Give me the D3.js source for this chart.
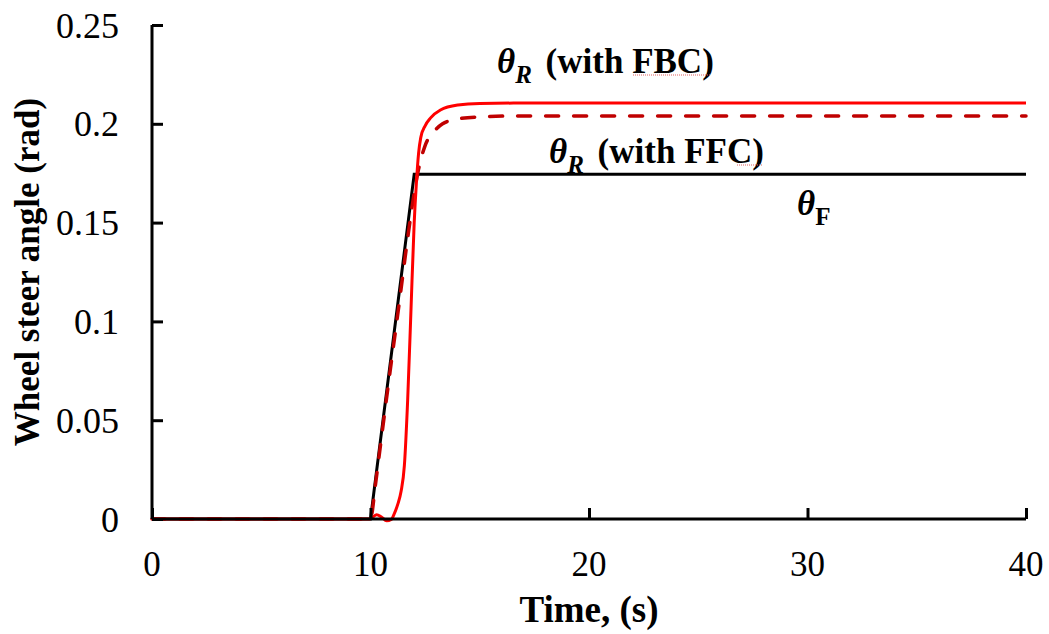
<!DOCTYPE html>
<html>
<head>
<meta charset="utf-8">
<script src="https://cdn.jsdelivr.net/npm/d3@7"></script>
<style>
  html, body { margin: 0; padding: 0; background: #fff; }
  svg { display: block; }
  text { font-family: "Liberation Serif", "Times New Roman", serif; fill: #000; }
</style>
</head>
<body>
<svg id="chart" width="1049" height="634"></svg>
<script>
// ---- data ----
const xTicks = [0, 10, 20, 30, 40];
const yTicks = [0, 0.05, 0.1, 0.15, 0.2, 0.25];
const yTickLabels = ["0", "0.05", "0.1", "0.15", "0.2", "0.25"];

// theta_F (front wheel steer input)
const thetaF_t = [0, 10, 12, 40];
const thetaF_v = [0, 0, 0.1745, 0.1745];

// theta_R with FFC (dashed dark red)
const ffc_t = [0, 9.95, 10.05, 10.2, 10.5, 10.9, 11.3, 11.7, 12.0, 12.2, 12.5, 12.9, 13.3, 14, 15, 17, 40];
const ffc_v = [0, 0, 0.002, 0.015, 0.041, 0.075, 0.108, 0.142, 0.165, 0.177, 0.189, 0.196, 0.2, 0.2025, 0.2035, 0.204, 0.204];

// theta_R with FBC (solid red)
const fbc_t = [0, 9.95, 10.1, 10.28, 10.5, 10.74, 10.95, 11.1, 11.25, 11.4, 11.55, 11.7, 11.85, 12.0, 12.1, 12.2, 12.3, 12.5, 12.75, 13.2, 14, 15, 17, 40];
const fbc_v = [0, 0, 0.001, 0.0022, 0.001, -0.0009, -0.0002, 0.003, 0.0075, 0.014, 0.027, 0.06, 0.105, 0.15, 0.17, 0.185, 0.193, 0.199, 0.203, 0.207, 0.2095, 0.2103, 0.2105, 0.2105];

// ---- layout ----
const svg = d3.select("#chart");
const x = d3.scaleLinear().domain([0, 40]).range([152, 1026]);
const y = d3.scaleLinear().domain([0, 0.25]).range([519, 25]);

const zip = (a, b) => a.map((d, i) => [d, b[i]]);
const line = d3.line().x(d => x(d[0])).y(d => y(d[1]));
const smooth = d3.line().x(d => x(d[0])).y(d => y(d[1])).curve(d3.curveMonotoneX);

// series
svg.append("path").attr("d", line(zip(thetaF_t, thetaF_v)))
  .attr("fill", "none").attr("stroke", "#000").attr("stroke-width", 3);
svg.append("path").attr("d", smooth(zip(ffc_t, ffc_v)))
  .attr("fill", "none").attr("stroke", "#C00000").attr("stroke-width", 3.5)
  .attr("stroke-dasharray", "13,15").attr("stroke-linecap", "round");
svg.append("path").attr("d", smooth(zip(fbc_t, fbc_v)))
  .attr("fill", "none").attr("stroke", "#FF0000").attr("stroke-width", 3);

// axes (ticks inside)
const gx = svg.append("g").attr("transform", `translate(0,${y(0)})`)
  .call(d3.axisTop(x).tickValues(xTicks).tickSize(11).tickFormat(""));
const gy = svg.append("g").attr("transform", `translate(${x(0)},0)`)
  .call(d3.axisRight(y).tickValues(yTicks).tickSize(11).tickFormat(""));
[gx, gy].forEach(g => {
  g.select(".domain").attr("stroke", "#000").attr("stroke-width", 3);
  g.selectAll(".tick line").attr("stroke", "#000").attr("stroke-width", 3);
});
gx.select(".domain").attr("d", `M${x(0)},0H${x(40)}`);
gy.select(".domain").attr("d", `M0,${y(0)}V${y(0.25)}`);

// tick labels
svg.append("g").selectAll("text").data(xTicks).join("text")
  .attr("x", d => x(d)).attr("y", 576).attr("text-anchor", "middle")
  .style("font-size", "35px").text(d => d);
svg.append("g").selectAll("text").data(yTicks).join("text")
  .attr("x", 119).attr("y", d => y(d)).attr("dy", "0.35em").attr("text-anchor", "end")
  .style("font-size", "36px").text((d, i) => yTickLabels[i]);

// axis titles
svg.append("text").attr("x", 589).attr("y", 622).attr("text-anchor", "middle")
  .style("font-size", "37px").style("font-weight", "bold").text("Time, (s)");
svg.append("text").attr("transform", "translate(39,272) rotate(-90)").attr("text-anchor", "middle")
  .style("font-size", "35px").style("font-weight", "bold").text("Wheel steer angle (rad)");

// annotations
function thetaLabel(px, py, sub, rest, subItalic) {
  const t = svg.append("text").attr("x", px).attr("y", py)
    .style("font-size", "35px").style("font-weight", "bold");
  t.append("tspan").style("font-style", "italic").text("θ");
  t.append("tspan").attr("dy", 10).style("font-size", "25px")
    .style("font-style", subItalic ? "italic" : "normal").text(sub);
  if (rest) t.append("tspan").attr("dy", -10).attr("dx", 5).text(rest);
  return t;
}
thetaLabel(497, 73, "R", " (with FBC)", true);
thetaLabel(549, 163, "R", " (with FFC)", true);
thetaLabel(797, 215, "F", null, false);

// spell-check style squiggles under FBC / FFC
function squiggle(x0, x1, yy) {
  svg.append("line").attr("x1", x0).attr("x2", x1).attr("y1", yy).attr("y2", yy)
    .attr("stroke", "#e06060").attr("stroke-width", 1).attr("stroke-dasharray", "1,1");
}
squiggle(633, 710, 75);
squiggle(737, 762, 165);
</script>
</body>
</html>
